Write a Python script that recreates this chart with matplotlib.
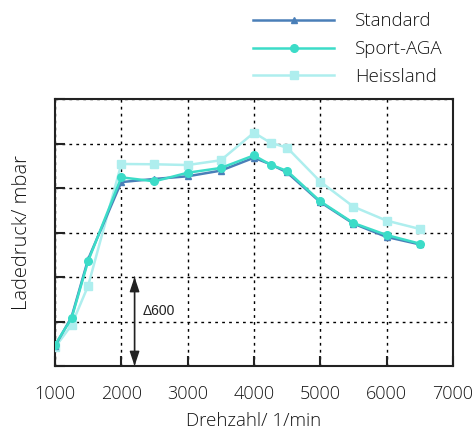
import matplotlib
matplotlib.use("Agg")
import matplotlib.pyplot as plt

# Engine speed (1/min) and boost pressure readings (mbar, relative to axis base)
drehzahl = [1000, 1250, 1500, 2000, 2500, 3000, 3500, 4000, 4250, 4500, 5000, 5500, 6000, 6500]
standard = [135, 330, 720, 1240, 1261, 1279, 1317, 1404, 1360, 1305, 1105, 960, 870, 820]
sport_aga = [142, 322, 708, 1272, 1245, 1303, 1335, 1420, 1357, 1315, 1110, 964, 883, 825]
heissland = [126, 276, 541, 1362, 1360, 1355, 1387, 1573, 1505, 1472, 1243, 1074, 980, 924]

x_ticks = [1000, 2000, 3000, 4000, 5000, 6000, 7000]
y_ticks = [0, 300, 600, 900, 1200, 1500, 1800]
delta_label = "\u0394600"
delta_value = 600
delta_x = 2200

plt.rcParams["font.family"] = ["Open Sans", "DejaVu Sans"]
plt.rcParams["font.weight"] = "light"
plt.rcParams["axes.labelweight"] = "light"

fig = plt.figure(figsize=(4.76, 4.48), dpi=100)
ax = fig.add_axes([0.1155, 0.183, 0.836, 0.596])

c_std = "#4a7fb8"
c_sport = "#3cdcc8"
c_heiss = "#aeeeee"
txt = "#141414"

ax.plot(drehzahl, heissland, color=c_heiss, lw=1.8, marker="s", ms=5.5,
        label="Heissland", zorder=3)
ax.plot(drehzahl, standard, color=c_std, lw=1.8, marker="^", ms=4,
        label="Standard", zorder=4)
ax.plot(drehzahl, sport_aga, color=c_sport, lw=1.8, marker="o", ms=5.5,
        label="Sport-AGA", zorder=5)

ax.set_xlim(1000, 7000)
ax.set_ylim(0, 1800)
ax.set_xticks(x_ticks)
ax.set_yticks(y_ticks)
ax.set_yticklabels([])
ax.tick_params(axis="both", direction="in", length=7, width=1.5, color="#222222")
ax.tick_params(axis="x", labelsize=13, labelcolor=txt, pad=14)
ax.tick_params(axis="y", left=True, right=False)
ax.tick_params(axis="x", top=False)
for s in ax.spines.values():
    s.set_linewidth(1.5)
    s.set_color("#222222")

ax.grid(True, color="black", linestyle=(0, (2, 3)), linewidth=1)
ax.set_axisbelow(True)

ax.set_xlabel("Drehzahl/ 1/min", fontsize=13.5, color=txt, labelpad=6)
ax.set_ylabel("Ladedruck/ mbar", fontsize=14.5, color=txt, labelpad=13)

# Double-headed arrow marking the pressure span
ax.annotate("", xy=(delta_x, 0), xytext=(delta_x, delta_value),
            arrowprops=dict(arrowstyle="-|>,head_length=0.9,head_width=0.3",
                            color="#222222", lw=1, shrinkA=0, shrinkB=0),
            zorder=6)
ax.annotate("", xy=(delta_x, delta_value), xytext=(delta_x, 0),
            arrowprops=dict(arrowstyle="-|>,head_length=0.9,head_width=0.3",
                            color="#222222", lw=1, shrinkA=0, shrinkB=0),
            zorder=6)
ax.text(delta_x + 120, delta_value * 0.62, delta_label, fontsize=10,
        family=["Liberation Sans", "DejaVu Sans"], weight="normal",
        color="#222222", va="center", ha="left")

handles, labels = ax.get_legend_handles_labels()
order = [1, 2, 0]
fig.legend([handles[i] for i in order], [labels[i] for i in order],
           loc="upper left", bbox_to_anchor=(0.497, 1.01), frameon=False,
           fontsize=13.5, handlelength=4.3, handletextpad=1.1, labelspacing=0.52,
           labelcolor=txt)

fig.savefig("out.png", dpi=100)
